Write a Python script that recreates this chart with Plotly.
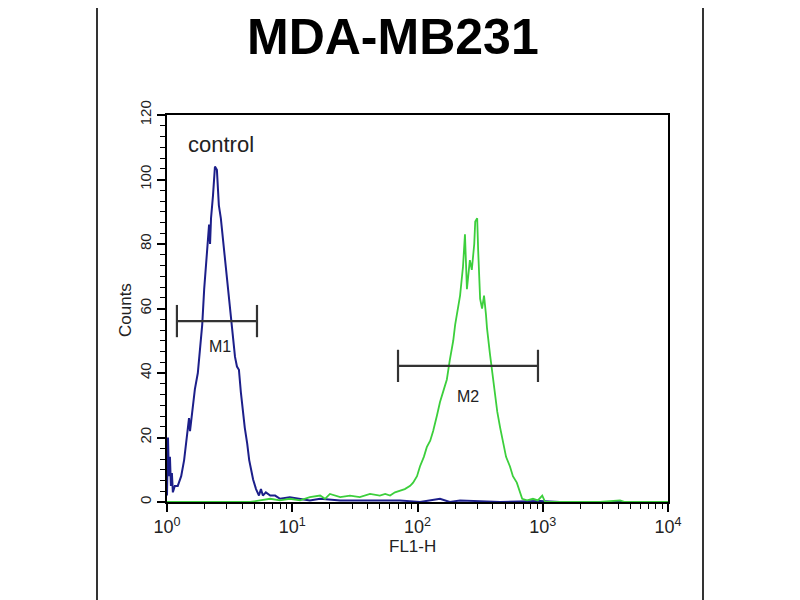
import plotly.graph_objects as go

# ---- data ----
# FL1-H is given as log-channel (0..1024 covers 4 decades), counts per channel
control_channel = [0, 2, 4, 6, 8, 10, 12, 16, 22, 29, 35, 41, 45, 47, 51, 57, 63, 67, 72, 76,
                   80, 82, 86, 88, 90, 94, 98, 102, 104, 106, 110, 114, 119, 123, 127, 131, 135,
                   139, 143, 147, 151, 155, 159, 164, 168, 172, 176, 182, 188, 192, 196, 202,
                   211, 221, 231, 251, 272, 292, 313, 354, 394, 435, 476, 517, 558, 578, 599,
                   681, 762, 803, 1024]
control_counts = [2, 20, 8, 14, 5, 9, 3, 5, 5, 8, 13, 20, 26, 22, 28, 35, 40, 47, 55, 66,
                  75, 80, 86, 80, 88, 95, 104, 103, 96, 92, 88, 82, 75, 68, 62, 56, 50,
                  45, 42, 41, 34, 28, 23, 18, 13, 10, 7, 4, 2, 4, 2, 3,
                  2, 2, 1, 1.5, 1, 0.5, 1, 0.5, 0.5, 0.5, 0.5, 0, 1, 0, 0.5,
                  0, 0.3, 0, 0]

sample_channel = [0, 170, 190, 211, 231, 251, 272, 292, 313, 323, 333, 354, 374, 394, 415, 435,
                  446, 456, 466, 476, 486, 497, 503, 511, 517, 525, 531, 538, 544, 552, 558,
                  566, 572, 578, 585, 589, 595, 599, 603, 605, 609, 611, 613, 617, 619, 623,
                  628, 630, 634, 636, 640, 644, 648, 652, 654, 660, 664, 668, 675, 681, 687,
                  693, 701, 707, 715, 722, 726, 736, 748, 758, 767, 773, 885, 926, 936, 1024]
sample_counts = [0, 0, 0.5, 1, 0.5, 1, 0.5, 1.5, 2, 1, 2.5, 1.5, 2, 1.5, 2.5, 2,
                 2.5, 2, 3, 3.5, 4, 5, 6, 8, 11, 14, 17, 19, 22, 27, 31,
                 35, 38, 44, 50, 55, 60, 64, 70, 73, 83, 74, 66, 72, 75, 72,
                 80, 87, 88, 78, 63, 60, 64, 58, 54, 46, 41, 36, 28, 23, 18,
                 14, 11, 8, 6, 3, 1, 0.5, 1, 0.5, 2, 0, 0, 0.5, 0, 0]

# markers (gates): start, end (FL1-H), level (counts)
m1_range = [1.20, 5.23]
m1_level = 56.1
m2_range = [69.9, 916.0]
m2_level = 42.2

x_tick_vals = [1, 10, 100, 1000, 10000]
x_tick_text = ["10<sup>0</sup>", "10<sup>1</sup>", "10<sup>2</sup>", "10<sup>3</sup>", "10<sup>4</sup>"]
y_tick_vals = [0, 20, 40, 60, 80, 100, 120]

title_text = "MDA-MB231"

# ---- figure ----
def ch2val(ch):
    return 10 ** (ch / 256.0)

fig = go.Figure()

fig.add_trace(go.Scatter(
    x=[ch2val(c) for c in control_channel], y=control_counts, mode="lines",
    line=dict(color="#1c1f8a", width=2), showlegend=False, hoverinfo="skip"))
fig.add_trace(go.Scatter(
    x=[ch2val(c) for c in sample_channel], y=sample_counts, mode="lines",
    line=dict(color="#3ccf3c", width=1.8), showlegend=False, hoverinfo="skip"))

def gate(xr, lvl, cap):
    xs = [xr[0], xr[1], None, xr[0], xr[0], None, xr[1], xr[1]]
    ys = [lvl, lvl, None, lvl - cap, lvl + cap, None, lvl - cap, lvl + cap]
    return go.Scatter(x=xs, y=ys, mode="lines", line=dict(color="#333333", width=2.2),
                      showlegend=False, hoverinfo="skip", connectgaps=False)

fig.add_trace(gate(m1_range, m1_level, 5.0))
fig.add_trace(gate(m2_range, m2_level, 5.0))

# page is offset by the default 8px body margin
OFF = 8
W, H = 800, 600
PL, PR, PT, PB = 167, 668, 115, 502   # plot area in page pixels
L, T = PL - OFF, PT - OFF
R = W - (PR - OFF)
B = H - (PB - OFF)
fig.update_layout(
    width=W, height=H, autosize=False,
    margin=dict(l=L, r=R, t=T, b=B, pad=0),
    paper_bgcolor="white", plot_bgcolor="white",
    font=dict(family="Liberation Sans, Arial, sans-serif", color="black"),
    xaxis=dict(type="log", range=[0, 4], showgrid=False, zeroline=False,
               showline=True, mirror=True, linecolor="black", linewidth=1.6,
               ticks="outside", ticklen=8, tickwidth=1.6, tickcolor="black",
               tickmode="array", tickvals=x_tick_vals, ticktext=x_tick_text,
               tickfont=dict(size=18, color="#222"),
               minor=dict(ticks="outside", ticklen=5, tickwidth=1.3, tickcolor="black",
                          dtick="D1", showgrid=False)),
    yaxis=dict(range=[0, 120], showgrid=False, zeroline=False,
               showline=True, mirror=True, linecolor="black", linewidth=1.6,
               ticks="outside", ticklen=8, tickwidth=1.6, tickcolor="black",
               tickmode="array", tickvals=y_tick_vals, tickangle=-90,
               tickfont=dict(size=15, color="#222"),
               minor=dict(ticks="outside", ticklen=5, tickwidth=1.3, tickcolor="black",
                          tick0=0, dtick=20 / 6, showgrid=False)),
)

pw, ph = PR - PL, PB - PT

def px2paper(px, py):
    return (px - PL) / pw, (PB - py) / ph

tx, ty = px2paper(393, OFF)
fx, fy = px2paper(412, 546)
cx, cy = px2paper(125, 310)
annotations = [
    dict(text=title_text, x=tx, y=ty, xref="paper", yref="paper", showarrow=False,
         xanchor="center", yanchor="top", borderpad=0,
         font=dict(size=50, family="Liberation Sans, Arial", color="black", weight="bold")),
    dict(text="FL1-H", x=fx, y=fy, xref="paper", yref="paper", showarrow=False,
         xanchor="center", yanchor="middle", font=dict(size=17, color="#222")),
    dict(text="Counts", x=cx, y=cy, xref="paper", yref="paper", showarrow=False,
         textangle=-90, xanchor="center", yanchor="middle", font=dict(size=17, color="#222")),
    dict(text="control", x=0.431, y=111, xref="x", yref="y", showarrow=False,
         xanchor="center", yanchor="middle", font=dict(size=22, color="#222")),
    dict(text="M1", x=0.423, y=48.1, xref="x", yref="y", showarrow=False,
         xanchor="center", yanchor="middle", font=dict(size=16, color="#222")),
    dict(text="M2", x=2.403, y=32.6, xref="x", yref="y", showarrow=False,
         xanchor="center", yanchor="middle", font=dict(size=16, color="#222")),
]
fig.update_layout(annotations=annotations)

# outer frame of the figure panel (side edges)
x0, _ = px2paper(97, 0)
x1, _ = px2paper(703, 0)
_, ytop = px2paper(0, OFF)
_, ybot = px2paper(0, 620)
for xv in (x0, x1):
    fig.add_shape(type="line", xref="paper", yref="paper", x0=xv, x1=xv, y0=ybot, y1=ytop,
                  line=dict(color="black", width=1.6), layer="below")

fig.write_html("out.html")
